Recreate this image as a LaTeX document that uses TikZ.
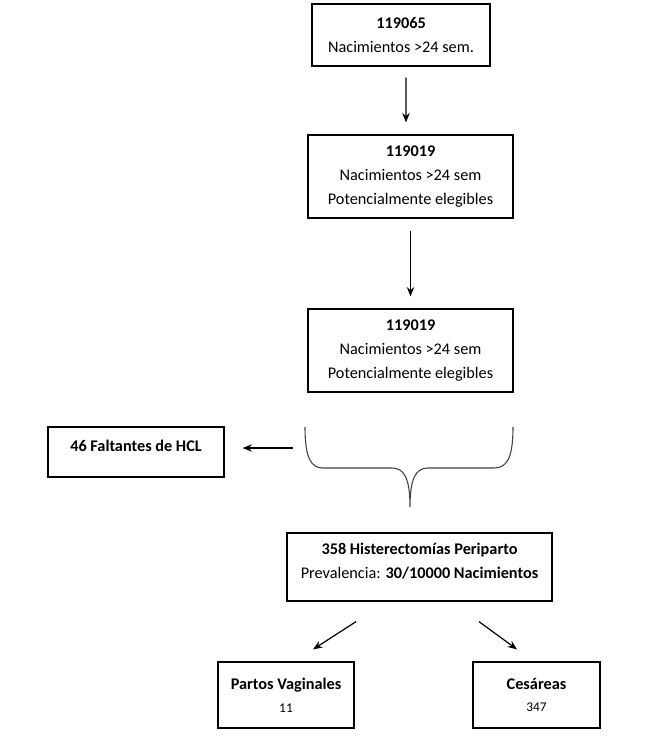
\documentclass[tikz,border=0pt]{standalone}
\usepackage{fontspec}
\setmainfont{Carlito}
\usetikzlibrary{arrows.meta}
\begin{document}
\begin{tikzpicture}[x=0.75pt,y=-0.75pt,
  box/.style={draw, line width=0.9pt, rectangle, inner sep=0pt, align=center, font=\fontsize{12.2}{18}\selectfont},
  lbl/.style={anchor=north, inner sep=0pt, align=center, font=\fontsize{12.2}{18}\selectfont},
  arr/.style={-{Stealth[length=7pt,width=5.5pt]}, line width=0.9pt},
  brace/.style={draw=black!75, line width=0.8pt}
]
\useasboundingbox (0,0) rectangle (662,740);

\node[box, minimum width=133.5pt, minimum height=46.5pt] (b1) at (401,35)
  {\textbf{119065}\\Nacimientos >24 sem.};
\node[box, minimum width=153.75pt, minimum height=62.25pt] (b2) at (410.5,176.5)
  {\textbf{119019}\\Nacimientos >24 sem\\Potencialmente elegibles};
\node[box, minimum width=153.75pt, minimum height=62.25pt] (b3) at (410.5,350.5)
  {\textbf{119019}\\Nacimientos >24 sem\\Potencialmente elegibles};
\node[box, minimum width=132pt, minimum height=37.5pt,
  label={[lbl, yshift=-10pt]north:\textbf{46 Faltantes de HCL}}] (hcl) at (136,452) {};
\node[box, minimum width=198.75pt, minimum height=51pt,
  label={[lbl, yshift=-8pt]north:\textbf{358 Histerectomías Periparto}\\Prevalencia: \textbf{30/10000 Nacimientos}}] (hist) at (419.5,567) {};
\node[box, minimum width=102pt, minimum height=49.5pt] (pv) at (286,695)
  {\textbf{Partos Vaginales}\\[-1pt]{\fontsize{10}{12}\selectfont 11}};
\node[box, minimum width=95.25pt, minimum height=49.5pt] (ces) at (536.5,695)
  {\textbf{Cesáreas}\\[-1pt]{\fontsize{10}{12}\selectfont 347}};

% brace
\coordinate (bl) at (305,427);
\coordinate (br) at (513,427);
\coordinate (btip) at (410,507);
\coordinate (barr) at (293,448);
\draw[brace] (bl) .. controls (305,458) and (311,468) .. (323,468) -- (392,468)
  .. controls (404,468) and (410,478) .. (btip)
  .. controls (410,478) and (416,468) .. (428,468) -- (494,468)
  .. controls (507,468) and (513,458) .. (br);

% arrows
\draw[arr] ([xshift=3.75pt,yshift=-8.25pt]b1.south) -- ([xshift=-3.4pt,yshift=9pt]b2.north);
\draw[arr] ([yshift=-9pt]b2.south) -- ([yshift=9pt]b3.north);
\draw[arr] (barr) -- ([xshift=13.5pt]hcl.east |- barr);
\draw[arr] ([xshift=-47.6pt,yshift=-15pt]hist.south) -- ([xshift=20.25pt,yshift=9pt]pv.north);
\draw[arr] ([xshift=44.6pt,yshift=-15pt]hist.south) -- ([xshift=-14.6pt,yshift=9pt]ces.north);
\end{tikzpicture}
\end{document}
